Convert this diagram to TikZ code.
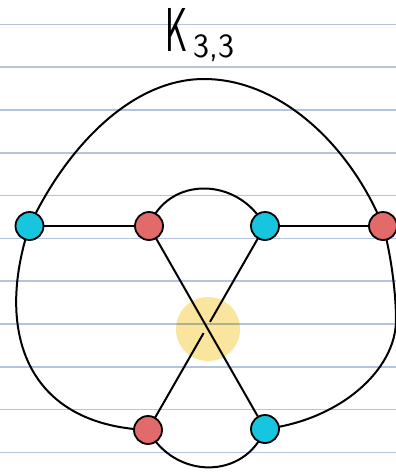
\documentclass[tikz,border=0pt]{standalone}
\usetikzlibrary{calc}
\pgfdeclarelayer{bgpaper}
\pgfdeclarelayer{bgedges}
\pgfsetlayers{bgpaper,bgedges,main}
\definecolor{paperline}{RGB}{180,196,224}
\definecolor{vcyan}{RGB}{22,198,222}
\definecolor{vred}{RGB}{226,106,106}
\definecolor{hlyellow}{RGB}{250,229,158}
\tikzset{
  vtx/.style={circle, draw=black, line width=1.8pt, minimum size=28pt, inner sep=0pt},
  cyanv/.style={vtx, fill=vcyan},
  redv/.style={vtx, fill=vred},
  edge/.style={draw=black, line width=2pt},
  ruled/.style={draw=paperline, line width=1.6pt},
  titlefont/.style={font=\sffamily\fontsize{62}{62}\selectfont, inner sep=0pt},
  subfont/.style={font=\sffamily\fontsize{34}{34}\selectfont, inner sep=0pt}
}
\begin{document}
\begin{tikzpicture}[x=1pt,y=-1pt]
\useasboundingbox (0,0) rectangle (396,472);
% vertices
\node[cyanv] (A) at (29.5,226) {};
\node[redv]  (B) at (149,226) {};
\node[cyanv] (C) at (265,226) {};
\node[redv]  (D) at (383,226) {};
\node[redv]  (E) at (148,430) {};
\node[cyanv] (F) at (265,429) {};
% title
\node[titlefont, anchor=base west] (K) at (165,51) {\scalebox{0.55}[1]{K}};
\node[subfont, anchor=base west] (sub) at (193,57) {3,3};
\begin{pgfonlayer}{bgpaper}
  \fill[white] (0,0) rectangle (396,472);
  \foreach \k in {0,...,10} {
    \coordinate (l\k) at (0,24.3+42.8*\k);
    \coordinate (r\k) at (396,24.3+42.8*\k);
    \draw[ruled] (l\k) -- (r\k);
  }
  \coordinate (hl) at (208,329);
  \fill[hlyellow, blend mode=multiply] (hl) circle (32);
\end{pgfonlayer}
\begin{pgfonlayer}{bgedges}
  \coordinate (topPeak) at (204,79);
  \coordinate (rightMid) at (396,320);
  \coordinate (gapA) at ($(C)!0.47!(E)$);
  \coordinate (gapB) at ($(C)!0.525!(E)$);
  % straight edges
  \draw[edge] (A.center) -- (B.center);
  \draw[edge] (C.center) -- (D.center);
  \draw[edge] (B.center) -- (F.center);
  \draw[edge] (C.center) -- (gapA);
  \draw[edge] (gapB) -- (E.center);
  % curved edges
  \draw[edge] (A.center) .. controls (65,150) and (130,79) .. (topPeak)
                         .. controls (280,79) and (350,145) .. (D.center);
  \draw[edge] (B.center) .. controls (168,176) and (238,176) .. (C.center);
  \draw[edge] (A.center) .. controls (-5,330) and (25,425) .. (E.center);
  \draw[edge] (D.center) .. controls (390,250) and (396,290) .. (rightMid)
                         .. controls (396,370) and (340,420) .. (F.center);
  \draw[edge] (E.center) .. controls (175,480) and (245,480) .. (F.center);
\end{pgfonlayer}
\end{tikzpicture}
\end{document}
